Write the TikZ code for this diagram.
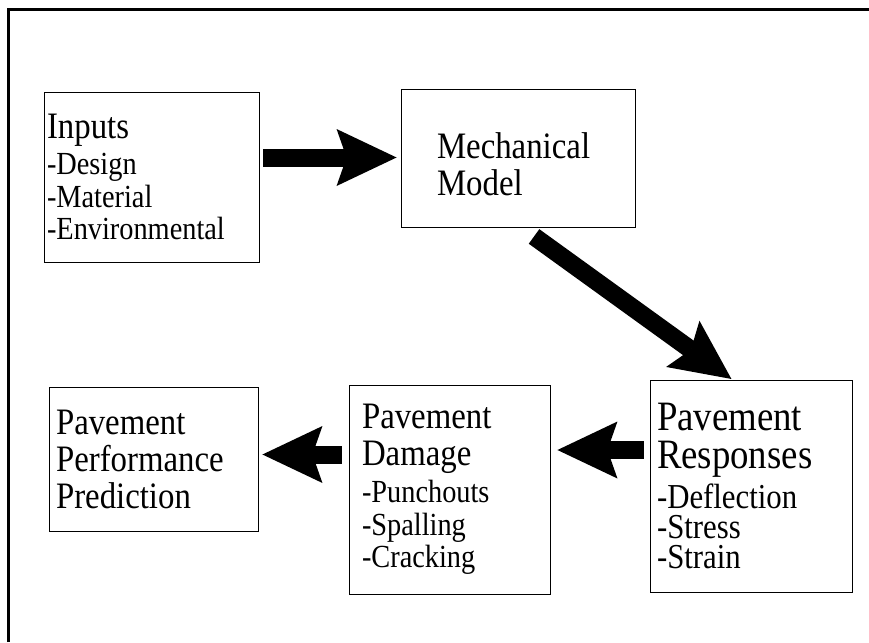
\documentclass[tikz,border=0pt]{standalone}
\usepackage{fontspec}
\setmainfont[FakeStretch=0.88]{Liberation Serif}
\usepackage{tikz}
\usetikzlibrary{arrows.meta}
\setlength{\parindent}{0pt}
\setlength{\lineskiplimit}{-100pt}
\newcommand{\itemfont}{\fontsize{32.2}{32.5}\selectfont}
\newcommand{\bigitemfont}{\fontsize{35}{30}\selectfont}

\begin{document}
\begin{tikzpicture}[x=1pt,y=-1pt,
    stage/.style={draw,line width=0.9pt,align=left,inner ysep=0pt,font=\fontsize{37.3}{37}\selectfont},
    bigarrow/.style={line width=18pt,-{Stealth[length=60pt,width=57pt,inset=10pt,line width=0pt]}}]
                                     \useasboundingbox (0,0) rectangle (869,642);
                                     \draw[line width=3pt] (8,642) -- (8,10) -- (869,10);
                                     \node[stage,text width=209pt,inner xsep=3pt,minimum height=170pt](inputs)at(151.5,177){Inputs\par\vspace{3.5pt}\itemfont -Design\par -Material\par -Environmental\par};
                                     \node[stage,text width=162pt,inner xsep=36pt,minimum height=138pt,text height=45pt,text depth=45pt](mech)at(518,158){Mechanical\par Model\par};
                                     \node[stage,text width=195pt,inner xsep=7pt,minimum height=144pt](pred)at(153.5,459){Pavement\par Performance\par Prediction\par};
                                     \node[stage,text width=175pt,inner xsep=13pt,minimum height=209pt](dmg)at(449.5,489.5){Pavement\par Damage\par\vspace{5pt}\itemfont -Punchouts\par -Spalling\par -Cracking\par};
                                     \node[stage,text width=188pt,inner xsep=7pt,minimum height=212pt,font=\fontsize{41.8}{38}\selectfont](resp)at(751,486){Pavement\par Responses\par\vspace{5pt}\bigitemfont -Deflection\par -Stress\par -Strain\par};
                                     \draw[bigarrow,shorten <=4pt,shorten >=4pt] ([yshift=19.5pt]inputs.east) -- ([yshift=0.5pt]mech.west);
                                     \draw[bigarrow,shorten >=1pt] ([yshift=-9pt]mech.-77) -- (resp.100);
                                     \draw[bigarrow,shorten <=6pt,shorten >=7pt] ([yshift=36pt]resp.west) -- ([yshift=39.5pt]dmg.east);
                                     \draw[bigarrow,shorten <=7pt,shorten >=4pt] ([yshift=35pt]dmg.west) -- ([yshift=4.5pt]pred.east);
                                 \end{tikzpicture}
\end{document}
